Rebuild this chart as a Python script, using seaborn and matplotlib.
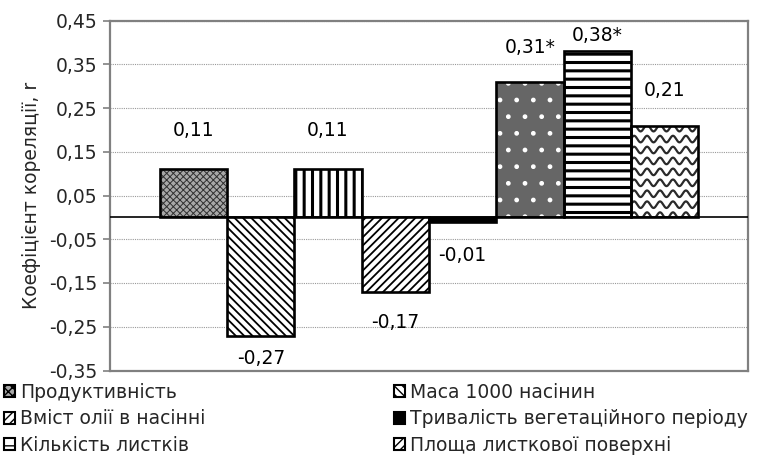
import numpy as np
import pandas as pd
import matplotlib
matplotlib.use("Agg")
import matplotlib.pyplot as plt
import matplotlib.ticker as mticker
from matplotlib.patches import Patch
import seaborn as sns

# ---- data ----
features = ["Продуктивність", "Маса 1000 насінин", "Кількість гілок",
            "Вміст олії в насінні", "Тривалість вегетаційного періоду",
            "Висота рослин", "Кількість листків", "Площа листкової поверхні"]
values = [0.11, -0.27, 0.11, -0.17, -0.01, 0.31, 0.38, 0.21]
labels = ["0,11", "-0,27", "0,11", "-0,17", "-0,01", "0,31*", "0,38*", "0,21"]

legend_items = ["Продуктивність", "Маса 1000 насінин",
                "Вміст олії в насінні", "Тривалість вегетаційного періоду",
                "Кількість листків", "Площа листкової поверхні"]

df = pd.DataFrame({"feature": features, "value": values})

# ---- style ----
sns.set_theme(style="white")
plt.rcParams["font.family"] = ["DejaVu Sans"]
FS = 13.5

# face colour, hatch colour, hatch pattern, hatch linewidth
bar_styles = [
    ("#a8a8a8", "#303030", "xxxxx", 0.7),
    ("white", "black", "\\\\\\\\", 1.3),
    ("white", "black", "||", 2.2),
    ("white", "black", "////", 1.3),
    ("black", "black", "", 1.0),
    ("#666666", "white", ".", 1.0),
    ("white", "black", "--", 2.2),
    ("white", "white", "", 1.0),
]
label_offsets_px = [39, -23, 39, -31, -34, 34, 16, 35]

fig = plt.figure(figsize=(7.59, 4.71), dpi=100)
ax = fig.add_axes([110 / 759, 1 - 370.5 / 471, 638 / 759, 350 / 471])

# filled layer (hatch only)
sns.barplot(data=df, x="feature", y="value", order=features, width=1.0,
            errorbar=None, linewidth=0, ax=ax, zorder=2)
fill_patches = list(ax.patches)
for p, (fc, hc, hatch, hlw) in zip(fill_patches, bar_styles):
    p.set_facecolor(fc)
    p.set_edgecolor(hc)
    p.set_hatch(hatch)
    p.set_linewidth(0)
    if hasattr(p, "set_hatch_linewidth"):
        p.set_hatch_linewidth(hlw)

# wavy texture for the last bar
wp = fill_patches[7]
x0, w, h = wp.get_x(), wp.get_width(), wp.get_height()
xs = np.linspace(x0, x0 + w, 300)
period = w / 5.2
amp = 0.0075
for base in np.arange(0.004, h + 0.03, 0.025):
    ln, = ax.plot(xs, base + amp * np.sin(2 * np.pi * (xs - x0) / period),
                  color="#2a2a2a", lw=1.6, zorder=3)
    ln.set_clip_path(wp)

# outline layer
sns.barplot(data=df, x="feature", y="value", order=features, width=1.0,
            errorbar=None, fill=False, color="black", linewidth=1.9,
            ax=ax, zorder=4)

# value labels
for i, (v, lab, off) in enumerate(zip(values, labels, label_offsets_px)):
    ax.annotate(lab, xy=(i, v), xytext=(0, off), textcoords="offset pixels",
                ha="center", va="center", fontsize=FS, color="black")

# axes
ax.set_xlim(-1.24, 8.24)
ax.set_ylim(-0.35, 0.45)
ax.set_yticks(np.arange(-0.35, 0.4501, 0.1))
ax.yaxis.set_major_formatter(mticker.FuncFormatter(
    lambda v, pos: f"{v:.2f}".replace(".", ",").replace("-0,00", "0,00")))
ax.set_xticks([])
ax.set_xlabel("")
ax.set_ylabel("Коефіцієнт кореляції, r", fontsize=FS, labelpad=6)
ax.tick_params(axis="y", labelsize=FS, length=5, width=1.2, color="#808080",
               left=True, pad=4)
ax.grid(axis="y", color="#9a9a9a", linestyle=(0, (1, 1)), linewidth=0.8)
ax.set_axisbelow(True)
ax.axhline(0, color="black", lw=1.2, zorder=5)
for side in ["left", "right", "top", "bottom"]:
    ax.spines[side].set_visible(True)
    ax.spines[side].set_color("#808080")
    ax.spines[side].set_linewidth(1.6)

# legend (two columns)
leg_hatches = ["xxxx", "\\\\\\\\", "////", "", "--", "////"]
leg_faces = ["#a8a8a8", "white", "white", "black", "white", "white"]
handles = [Patch(facecolor=fc, edgecolor="black", hatch=ht, linewidth=1.5)
           for fc, ht in zip(leg_faces, leg_hatches)]
common = dict(frameon=False, fontsize=FS, handlelength=0.6, handleheight=0.6,
              handletextpad=0.25, labelspacing=0.4, borderpad=0,
              borderaxespad=0, loc="upper left")
fig.legend(handles[0::2], legend_items[0::2],
           bbox_to_anchor=(4 / 759, 1 - 383 / 471), **common)
fig.legend(handles[1::2], legend_items[1::2],
           bbox_to_anchor=(394 / 759, 1 - 383 / 471), **common)

fig.savefig("out.png", dpi=100)
